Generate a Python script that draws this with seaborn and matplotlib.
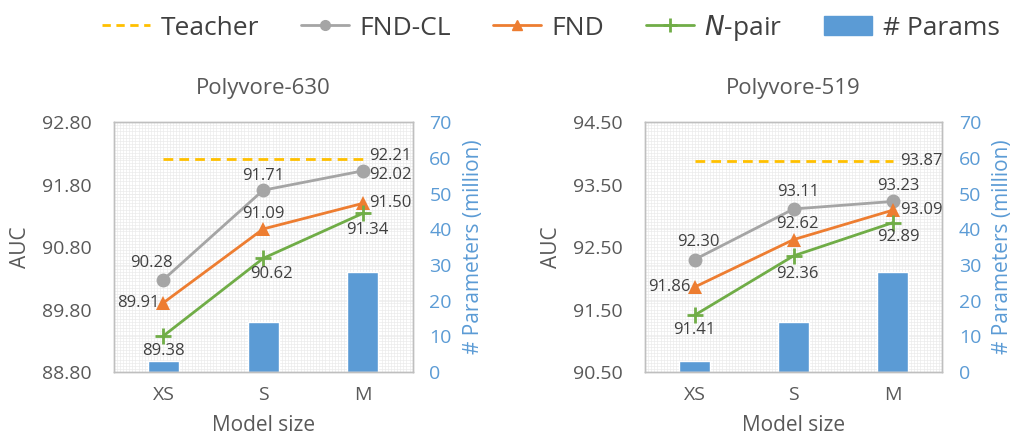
import numpy as np
import matplotlib
matplotlib.use("Agg")
import matplotlib.pyplot as plt
from matplotlib.ticker import MultipleLocator, FixedLocator
from matplotlib.lines import Line2D
from matplotlib.patches import Patch
import seaborn as sns

# data
sizes = ["XS", "S", "M"]
params = [3, 14, 28]

titles = ["Polyvore-630", "Polyvore-519"]
teacher = [92.21, 93.87]
fnd_cl = [[90.28, 91.71, 92.02], [92.30, 93.11, 93.23]]
fnd = [[89.91, 91.09, 91.50], [91.86, 92.62, 93.09]]
npair = [[89.38, 90.62, 91.34], [91.41, 92.36, 92.89]]
ylims = [(88.8, 92.8), (90.5, 94.5)]

C_TEACH = "#FFC000"
C_CL = "#A5A5A5"
C_FND = "#ED7D31"
C_NP = "#70AD47"
C_BAR = "#5B9BD5"
C_TXT = "#595959"

sns.set_style("white")
plt.rcParams["font.family"] = ["Open Sans", "DejaVu Sans"]

fig = plt.figure(figsize=(10.24, 4.44), dpi=100)
axes_pos = [[0.111, 0.162, 0.292, 0.563], [0.630, 0.162, 0.290, 0.563]]

# label offsets (points) per series and panel
off_teach = [(20, 2), (21, 0)]
off_cl = [[(-9, 12), (0, 10), (20, -3)], [(3, 13), (3, 12), (4, 11)]]
off_fnd = [[(-18, 0), (0, 11), (20, 0)], [(-18, 0), (3, 11), (21, 0)]]
off_np = [[(0, -11), (6, -11), (3, -12)], [(0, -11), (3, -13), (4, -10)]]

pos = np.arange(len(sizes))

for i in range(2):
    ax = fig.add_axes(axes_pos[i])
    axb = ax.twinx()
    ax.set_zorder(2)
    axb.set_zorder(1)
    ax.patch.set_visible(False)
    axb.patch.set_visible(True)
    axb.patch.set_facecolor("white")

    sns.barplot(x=sizes, y=params, ax=axb, color=C_BAR, width=0.31, saturation=1)
    axb.set_ylim(0, 70)
    axb.yaxis.set_major_locator(MultipleLocator(10))
    axb.xaxis.set_visible(True)
    axb.set_xlabel("")
    axb.tick_params(axis="x", labelbottom=False, length=0)
    axb.xaxis.set_minor_locator(MultipleLocator(3 / 96))
    axb.yaxis.set_minor_locator(MultipleLocator(70 / 80))
    axb.set_axisbelow(True)
    axb.grid(which="both", color="#ebebeb", linewidth=0.5)
    axb.tick_params(axis="y", which="both", colors=C_BAR, labelsize=14, length=0, pad=12)
    axb.set_ylabel("# Parameters (million)", color=C_BAR, fontsize=15, labelpad=8)

    sns.lineplot(x=pos[[0, -1]], y=[teacher[i]] * 2, ax=ax, color=C_TEACH,
                 linestyle=(0, (3.5, 2.2)), linewidth=2)
    sns.lineplot(x=pos, y=fnd_cl[i], ax=ax, color=C_CL, marker="o",
                 markersize=10, markeredgewidth=0, linewidth=2)
    sns.lineplot(x=pos, y=fnd[i], ax=ax, color=C_FND, marker="^",
                 markersize=10, markeredgewidth=0, linewidth=2)
    sns.lineplot(x=pos, y=npair[i], ax=ax, color=C_NP, marker="+",
                 markersize=12, markeredgewidth=2, markeredgecolor=C_NP, linewidth=2)

    ax.annotate(f"{teacher[i]:.2f}", (pos[-1], teacher[i]), xytext=off_teach[i],
                textcoords="offset points", ha="center", va="center",
                fontsize=12, color="#404040")
    for vals, offs in [(fnd_cl[i], off_cl[i]), (fnd[i], off_fnd[i]), (npair[i], off_np[i])]:
        for x, v, o in zip(pos, vals, offs):
            ax.annotate(f"{v:.2f}", (x, v), xytext=o, textcoords="offset points",
                        ha="center", va="center", fontsize=12, color="#404040")

    ax.set_xlim(-0.5, 2.5)
    ax.set_ylim(*ylims[i])
    ax.set_xticks(pos)
    ax.set_xticklabels(sizes)
    ax.yaxis.set_major_locator(FixedLocator(np.arange(ylims[i][0], ylims[i][1] + 0.01, 1.0)))
    ax.yaxis.set_major_formatter(plt.FormatStrFormatter("%.2f"))
    ax.grid(False)
    ax.tick_params(axis="both", which="both", length=0, colors=C_TXT, labelsize=14)
    ax.tick_params(axis="y", pad=16)
    ax.tick_params(axis="x", pad=10)
    ax.set_ylabel("AUC", color=C_TXT, fontsize=15, labelpad=8)
    ax.set_xlabel("Model size", color=C_TXT, fontsize=15, labelpad=8)
    ax.set_title(titles[i], color=C_TXT, fontsize=16, pad=20)
    for a in (ax, axb):
        for s in a.spines.values():
            s.set_color("#bfbfbf")
            s.set_linewidth(1)

handles = [
    Line2D([], [], color=C_TEACH, linestyle=(0, (3, 2)), linewidth=2),
    Line2D([], [], color=C_CL, marker="o", markersize=7, linewidth=2),
    Line2D([], [], color=C_FND, marker="^", markersize=7, linewidth=2),
    Line2D([], [], color=C_NP, marker="+", markersize=10, markeredgewidth=2, linewidth=2),
    Patch(color=C_BAR),
]
labels = ["Teacher", "FND-CL", "FND", "$N$-pair", "# Params"]
fig.legend(handles, labels, loc="upper center", bbox_to_anchor=(0.538, 1.025), ncol=5,
           frameon=False, fontsize=19, columnspacing=1.6, handlelength=1.8,
           handletextpad=0.4, labelcolor="#404040")

fig.savefig("out.png", dpi=100)
